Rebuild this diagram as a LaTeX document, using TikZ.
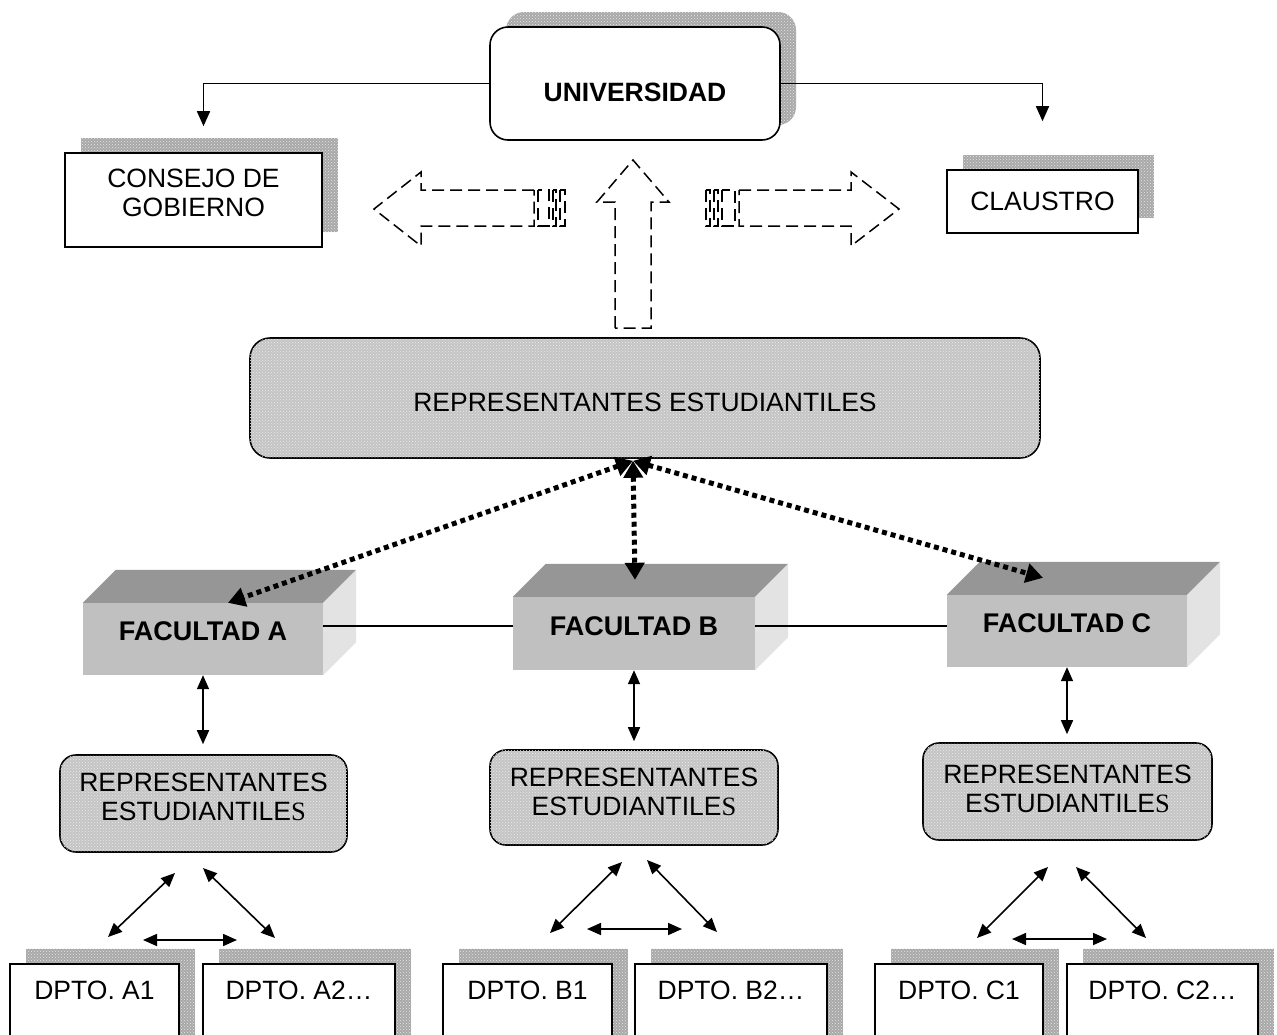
\documentclass[tikz,border=0pt]{standalone}
\usepackage{fontspec}
\setmainfont{Liberation Sans}
\newfontfamily\timesS{Liberation Serif}
\usetikzlibrary{arrows.meta,shadows,patterns,calc}

\definecolor{boxgray}{HTML}{C4C4C4}
\definecolor{shadegray}{HTML}{A8A8A8}
\definecolor{frontgray}{HTML}{C0C0C0}
\definecolor{topgray}{HTML}{969696}
\definecolor{sidegray}{HTML}{E3E3E3}

\begin{document}
\begin{tikzpicture}[x=1pt,y=-1pt,
  txt/.style={font=\fontsize{26.5}{29}\selectfont},
  shadowed/.style={drop shadow={shadow xshift=16pt,shadow yshift=15pt,fill=shadegray,opacity=1,
    postaction={pattern=crosshatch dots,pattern color=white!82!gray}}},
  whitebox/.style={draw,line width=1.6pt,fill=white,shadowed,txt,align=center},
  repbox/.style={draw,line width=1.6pt,fill=boxgray,
    postaction={pattern=crosshatch dots,pattern color=white!85!gray}},
  reptext/.style={txt,align=center},
  front/.style={fill=frontgray,inner sep=0pt,font=\fontsize{27}{30}\selectfont\bfseries,
    text height=19pt,text depth=16pt},
  dpto/.style={whitebox,anchor=north,inner ysep=0pt,text height=36pt,text depth=64pt},
  conn/.style={line width=1.6pt,-{Triangle[length=15pt,width=13pt]}},
  dbl/.style={line width=1.6pt,{Triangle[length=14pt,width=12pt]}-{Triangle[length=14pt,width=12pt]}},
  dotarrow/.style={line width=5pt,dash pattern=on 5pt off 4pt,
    {Triangle[length=17pt,width=19pt]}-{Triangle[length=17pt,width=19pt]}},
  dashedge/.style={draw,line width=1.5pt,dash pattern=on 12pt off 6pt}
]
\useasboundingbox (0,0) rectangle (1277,1034);
\fill[white] (0,0) rectangle (1277,1034);
\clip (0,0) rectangle (1277,1034);

% ---- governing bodies ----
\node[whitebox,rounded corners=18pt,minimum width=290pt,minimum height=113pt,
  font=\fontsize{26.5}{29}\selectfont\bfseries,text height=36pt,text depth=0pt] (uni) at (635,83.5) {UNIVERSIDAD};
\node[whitebox,minimum width=257pt,minimum height=94pt,
  label={[reptext,yshift=7pt]center:CONSEJO DE\\GOBIERNO}] (consejo) at (193.5,200) {};
\node[whitebox,minimum width=191pt,minimum height=63pt] (claustro) at (1042.5,201.5) {CLAUSTRO};

\draw[conn,shorten >=26pt] (uni.west) -| ([xshift=10pt]consejo.north);
\draw[conn,shorten >=48pt] (uni.east) -| (claustro.north);

% ---- dashed block arrows ----
% left, pointing to the council
\draw[dashedge] (534,190) -- (421,190) -- (421,172) -- (374,209) -- (421,246) -- (421,226) -- (534,226) -- cycle;
\draw[dashedge] (538,190) rectangle (549,226);
\draw[dashedge] (553,190) rectangle (556,226);
\draw[dashedge] (560,190) rectangle (565,226);
% right, pointing to the senate
\draw[dashedge] (739,190) -- (851,190) -- (851,172) -- (899,209) -- (851,246) -- (851,226) -- (739,226) -- cycle;
\draw[dashedge] (722,190) rectangle (735,226);
\draw[dashedge] (714,190) rectangle (718,226);
\draw[dashedge] (706,190) rectangle (710,226);
% up, towards the university
\draw[dashedge] (615,328) -- (615,202) -- (597,202) -- (633,160) -- (669,202) -- (651,202) -- (651,328) -- cycle;

% ---- student representatives ----
\node[repbox,rounded corners=20pt,minimum width=790pt,minimum height=120pt,
  label={[reptext,yshift=-4pt]center:REPRESENTANTES ESTUDIANTILES}] (rep) at (645,398) {};

% ---- faculties (3D blocks) ----
\node[front,minimum width=240pt,minimum height=72pt] (facA) at (203,639) {FACULTAD A};
\node[front,minimum width=242pt,minimum height=73pt] (facB) at (634,633.5) {FACULTAD B};
\node[front,minimum width=240pt,minimum height=72pt] (facC) at (1067,631) {FACULTAD C};
\foreach \f in {facA,facB,facC}{
  \fill[topgray] (\f.north west) -- ++(33,-33) -- ($(\f.north east)+(33,-33)$) -- (\f.north east) -- cycle;
  \fill[sidegray] (\f.north east) -- ++(33,-33) -- ($(\f.south east)+(33,-33)$) -- (\f.south east) -- cycle;
}
\draw[line width=1.6pt] ([yshift=13pt]facA.east) -- ([yshift=13pt]facA.east -| facB.west);
\draw[line width=1.6pt] ([yshift=7.5pt]facB.east) -- ([yshift=7.5pt]facB.east -| facC.west);

\coordinate (hub) at ([xshift=-12pt,yshift=-2pt]rep.south);
\coordinate (tipA) at ([xshift=25pt]facA.north);
\coordinate (tipB) at ($(facB.north)+(1,-17)$);
\coordinate (tipC) at ($(facC.north)+(-24,-17)$);
\draw[dotarrow] (hub) -- (tipA);
\draw[dotarrow] (hub) -- (tipB);
\draw[dotarrow] (hub) -- (tipC);

% ---- faculty representatives ----
\node[repbox,rounded corners=16pt,minimum width=287pt,minimum height=97pt,
  label={[reptext,yshift=7pt]center:REPRESENTANTES\\ESTUDIANTILE{\timesS S}}] (repA) at (203.5,803.5) {};
\node[repbox,rounded corners=16pt,minimum width=288pt,minimum height=95pt,
  label={[reptext,yshift=6pt]center:REPRESENTANTES\\ESTUDIANTILE{\timesS S}}] (repB) at (634,797.5) {};
\node[repbox,rounded corners=16pt,minimum width=289pt,minimum height=97pt,
  label={[reptext,yshift=3pt]center:REPRESENTANTES\\ESTUDIANTILE{\timesS S}}] (repC) at (1067.5,791.5) {};

\draw[dbl,shorten >=10pt] (facA.south) -- (repA.north -| facA.south);
\draw[dbl,shorten >=8pt] (facB.south) -- (repB.north -| facB.south);
\draw[dbl,shorten >=8pt] (facC.south) -- (repC.north -| facC.south);

% ---- departments ----
\node[dpto,minimum width=169pt] (dA1) at (94.5,963) {DPTO. A1};
\node[dpto,minimum width=192pt] (dA2) at (299,963) {DPTO. A2…};
\node[dpto,minimum width=169pt] (dB1) at (527.5,963) {DPTO. B1};
\node[dpto,minimum width=192pt] (dB2) at (731,963) {DPTO. B2…};
\node[dpto,minimum width=168pt] (dC1) at (959,963) {DPTO. C1};
\node[dpto,minimum width=191pt] (dC2) at (1162.5,963) {DPTO. C2…};

% arrow ends of the triangles between representatives and departments
\coordinate (aL1) at (175,873);  \coordinate (aL2) at (108,937);
\coordinate (aR1) at (203,868);  \coordinate (aR2) at (275,938);
\coordinate (aH1) at (143,940);  \coordinate (aH2) at (237,940);
\coordinate (bL1) at (622,862);  \coordinate (bL2) at (550,933);
\coordinate (bR1) at (647,860);  \coordinate (bR2) at (717,932);
\coordinate (bH1) at (587,929);  \coordinate (bH2) at (682,929);
\coordinate (cL1) at (1048,867); \coordinate (cL2) at (977,938);
\coordinate (cR1) at (1076,867); \coordinate (cR2) at (1146,938);
\coordinate (cH1) at (1012,939); \coordinate (cH2) at (1107,939);
\foreach \p in {a,b,c}{
  \draw[dbl] (\p L1) -- (\p L2);
  \draw[dbl] (\p R1) -- (\p R2);
  \draw[dbl] (\p H1) -- (\p H2);
}
\end{tikzpicture}
\end{document}
